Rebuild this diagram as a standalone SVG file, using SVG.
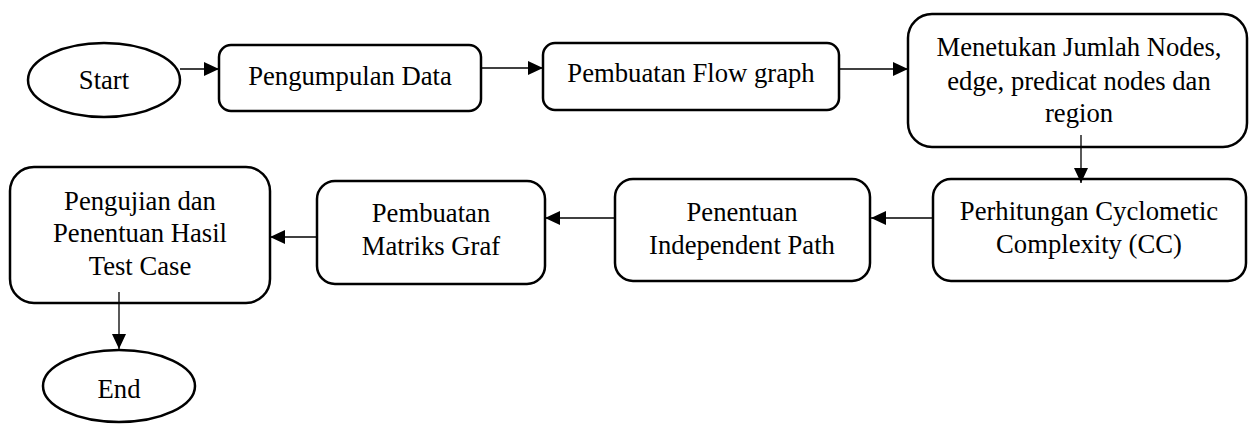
<svg xmlns="http://www.w3.org/2000/svg" width="1250" height="424" viewBox="0 0 1250 424">
<style>
.n{fill:#fff;stroke:#000;stroke-width:2.5}
.t{font-family:"Liberation Serif","Times New Roman",serif;font-size:26.67px;fill:#000;text-anchor:middle}
.c{stroke:#000;stroke-width:1.3;fill:none;marker-end:url(#ah)}
</style>
<defs>
<marker id="ah" markerWidth="16" markerHeight="14" refX="15" refY="7" orient="auto" markerUnits="userSpaceOnUse">
<path d="M0,0 L15,7 L0,14 Z" fill="#000"/>
</marker>
</defs>
<rect width="1250" height="424" fill="#fff"/>
<g id="start"><ellipse class="n" cx="104" cy="80" rx="76" ry="37"/><text class="t" x="104" y="89">Start</text></g>
<g id="pengumpulan"><rect class="n" x="219" y="45" width="262" height="66" rx="12"/><text class="t" x="350" y="85">Pengumpulan Data</text></g>
<g id="flowgraph"><rect class="n" x="543" y="43" width="296" height="67" rx="12"/><text class="t" x="691" y="82">Pembuatan Flow graph</text></g>
<g id="menetukan"><rect class="n" x="908" y="14" width="339" height="133" rx="24"/><text class="t" x="1079" y="56">Menetukan Jumlah Nodes,</text><text class="t" x="1079" y="90">edge, predicat nodes dan</text><text class="t" x="1079" y="122">region</text></g>
<g id="perhitungan"><rect class="n" x="933" y="179" width="313" height="102" rx="18"/><text class="t" x="1089" y="220">Perhitungan Cyclometic</text><text class="t" x="1089" y="253">Complexity (CC)</text></g>
<g id="penentuan"><rect class="n" x="615" y="179" width="255" height="102" rx="18"/><text class="t" x="742" y="221">Penentuan</text><text class="t" x="742" y="254">Independent Path</text></g>
<g id="matriks"><rect class="n" x="317" y="181" width="228" height="103" rx="18"/><text class="t" x="431" y="222">Pembuatan</text><text class="t" x="431" y="255">Matriks Graf</text></g>
<g id="pengujian"><rect class="n" x="10" y="167" width="260" height="136" rx="24"/><text class="t" x="140" y="210">Pengujian dan</text><text class="t" x="140" y="242">Penentuan Hasil</text><text class="t" x="140" y="275">Test Case</text></g>
<g id="end"><ellipse class="n" cx="119" cy="386" rx="76" ry="36"/><text class="t" x="119" y="398">End</text></g>
<g id="connectors">
<line class="c" x1="180" y1="69" x2="219" y2="69"/>
<line class="c" x1="481" y1="68" x2="543" y2="68"/>
<line class="c" x1="839" y1="69" x2="908" y2="69"/>
<line class="c" x1="1081" y1="135" x2="1081" y2="183"/>
<line class="c" x1="933" y1="218" x2="871" y2="218"/>
<line class="c" x1="615" y1="218" x2="545" y2="218"/>
<line class="c" x1="317" y1="237" x2="270" y2="237"/>
<line class="c" x1="119" y1="292" x2="119" y2="349"/>
</g>
</svg>
